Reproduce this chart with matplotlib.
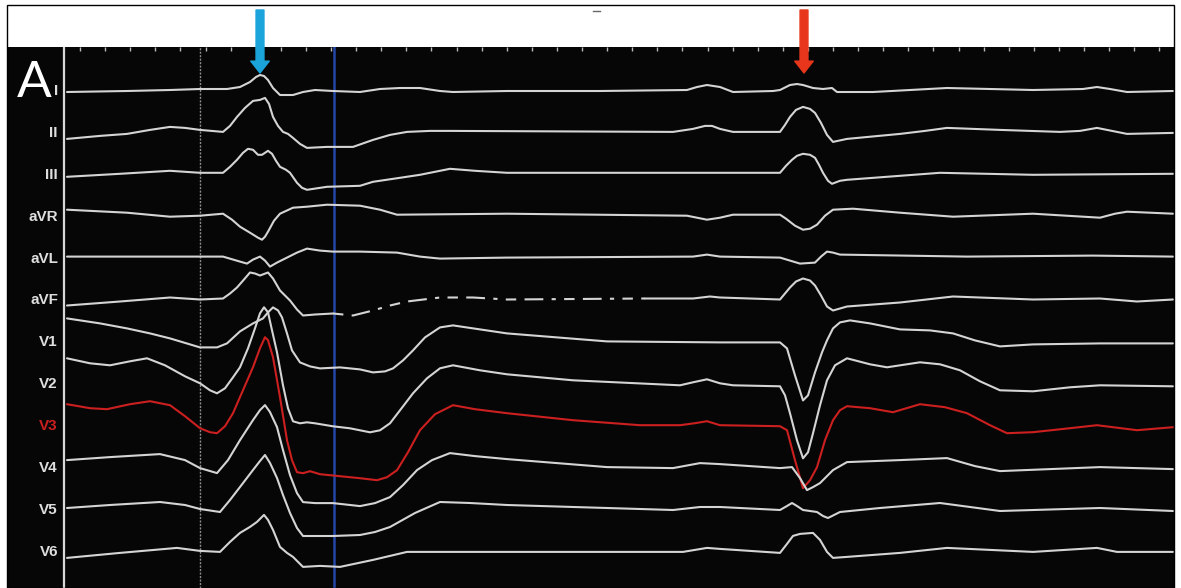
import numpy as np
import matplotlib.pyplot as plt
from matplotlib.patches import Rectangle
from matplotlib.lines import Line2D

# 12-lead tracing: time in samples (500 Hz), amplitude in ADC counts (20 uV/count)
# relative to each lead's own baseline
leads = ["I", "II", "III", "aVR", "aVL", "aVF", "V1", "V2", "V3", "V4", "V5", "V6"]

I_t = [3, 63, 106, 136, 163, 176, 186, 192, 196, 200, 204, 209, 216, 229, 239, 251, 269, 296, 316, 336,
       356, 376, 389, 443, 536, 623, 633, 643, 656, 669, 709, 716, 726, 733, 739, 749, 759, 768, 773, 809,
       883, 969, 1019, 1033, 1046, 1063, 1109]
I_v = [-1, 0, 1, 2, 2, 4, 9, 14, 16, 15, 11, 3, -4, -4, -1, 1, 0, -1, 2, 3,
       3, 0, -1, 0, 0, 1, 4, 6, 4, -1, 0, 1, 6, 7, 6, 3, 2, 3, -1, -1,
       3, 1, 2, 4, 2, -1, 0]

II_t = [3, 36, 63, 86, 106, 121, 136, 159, 166, 173, 181, 189, 196, 201, 205, 209, 214, 219, 224, 229,
        236, 243, 263, 289, 309, 326, 343, 366, 386, 609, 629, 641, 648, 656, 669, 716, 721, 726, 732, 739,
        746, 751, 757, 763, 769, 783, 836, 861, 883, 936, 996, 1016, 1033, 1048, 1063, 1109]
II_v = [-6, -3, -1, 3, 6, 5, 3, 1, 7, 16, 25, 32, 33, 35, 29, 16, 7, 1, -1, -5,
        -11, -15, -14, -14, -7, -2, 1, 2, 2, 1, 4, 7, 7, 4, 1, 1, 8, 16, 23, 26,
        24, 20, 10, -2, -9, -6, -1, 2, 5, 3, 1, 2, 5, 2, -1, 0]

III_t = [3, 56, 106, 136, 159, 166, 173, 179, 184, 189, 194, 198, 204, 208, 212, 216, 222, 226, 233, 238,
         243, 263, 296, 309, 336, 356, 386, 411, 443, 576, 656, 716, 722, 728, 733, 739, 746, 751, 755, 759,
         764, 768, 776, 783, 876, 969, 1109]
III_v = [-2, 1, 4, 2, 2, 8, 15, 22, 26, 25, 20, 20, 24, 21, 14, 8, 5, 2, -8, -13,
         -15, -12, -11, -7, -3, 0, 6, 4, 2, 2, 2, 2, 9, 15, 19, 21, 20, 17, 10, 2,
         -6, -9, -6, -5, 2, 0, 1]

aVR_t = [3, 63, 106, 136, 159, 168, 176, 186, 194, 198, 201, 204, 210, 216, 229, 243, 263, 296, 316, 333,
         443, 623, 643, 656, 669, 716, 722, 731, 739, 746, 753, 761, 769, 789, 836, 889, 969, 1036, 1051, 1063,
         1109]
aVR_v = [7, 4, 0, 1, 3, -3, -10, -16, -21, -23, -20, -15, -4, 3, 9, 10, 12, 11, 7, 2,
         3, 1, -3, -1, 2, 2, -2, -9, -13, -12, -8, 1, 7, 8, 4, 0, 3, -1, 3, 5,
         3]

aVL_t = [3, 159, 176, 183, 189, 196, 201, 206, 213, 223, 233, 243, 256, 269, 296, 333, 356, 376, 443, 629,
         643, 656, 716, 726, 736, 751, 757, 763, 769, 776, 903, 1029, 1109]
aVL_v = [2, 2, -3, -5, -1, 2, -2, -8, -4, 1, 6, 10, 8, 7, 7, 6, 2, 0, 1, 2,
         4, 2, 1, -2, -5, -4, 2, 7, 6, 4, 2, 3, 2]

aVF_t = [3, 56, 106, 136, 159, 166, 173, 180, 186, 191, 196, 204, 209, 216, 221, 226, 233, 239, 251, 269,
         289, 309, 326, 343, 376, 409, 443, 581, 629, 646, 656, 716, 721, 726, 732, 739, 746, 751, 757, 763,
         769, 783, 836, 889, 969, 1036, 1073, 1109]
aVF_v = [-5, -1, 3, 1, 2, 7, 13, 21, 28, 27, 25, 28, 22, 10, 5, 0, -9, -15, -14, -13,
         -15, -10, -5, -1, 3, 3, 1, 2, 2, 4, 3, 1, 7, 13, 19, 22, 20, 15, 5, -6,
         -10, -6, -2, 4, 1, 2, -1, 1]
aVF_dropout = (269, 581)  # signal dropout drawn dashed

V1_t = [3, 36, 63, 86, 106, 126, 136, 153, 163, 176, 189, 199, 204, 209, 214, 218, 223, 228, 236, 246,
        256, 276, 296, 309, 321, 329, 339, 349, 361, 376, 389, 416, 443, 543, 656, 716, 723, 731, 739, 744,
        751, 758, 763, 769, 776, 786, 806, 836, 866, 889, 911, 936, 969, 1036, 1109]
V1_v = [24, 19, 14, 9, 4, -2, -5, -5, -1, 11, 19, 24, 30, 35, 32, 25, 9, -8, -20, -24,
        -26, -25, -27, -30, -29, -26, -18, -8, 5, 15, 17, 13, 9, 1, 0, 0, -6, -33, -58, -53,
        -30, -10, 2, 14, 20, 22, 19, 13, 12, 9, 2, -4, -2, -1, -1]

V2_t = [3, 26, 46, 66, 83, 101, 121, 136, 146, 153, 161, 169, 176, 184, 191, 196, 200, 204, 208, 213,
        219, 224, 229, 236, 243, 251, 269, 286, 306, 316, 326, 336, 349, 363, 376, 389, 416, 443, 509, 616,
        629, 643, 656, 669, 716, 721, 726, 733, 739, 744, 749, 756, 763, 771, 783, 806, 823, 856, 876, 896,
        916, 936, 969, 1006, 1036, 1109]
V2_v = [26, 21, 19, 23, 26, 19, 8, 1, -6, -9, -4, 7, 17, 36, 56, 71, 77, 72, 54, 32,
        -1, -24, -37, -39, -38, -39, -42, -44, -48, -46, -39, -26, -9, 6, 16, 19, 14, 10, 4, -1,
        2, 5, 1, -1, -2, -11, -29, -56, -74, -68, -49, -21, 4, 19, 26, 20, 17, 22, 20, 14,
        3, -6, -7, -3, -1, -2]

V3_t = [3, 26, 43, 66, 86, 106, 121, 136, 146, 153, 161, 169, 179, 189, 196, 201, 204, 209, 216, 223,
        228, 233, 239, 246, 256, 276, 296, 313, 323, 333, 344, 356, 371, 389, 411, 443, 509, 576, 616, 631,
        643, 656, 716, 723, 731, 739, 746, 753, 761, 769, 776, 783, 806, 829, 856, 881, 903, 926, 943, 969,
        1006, 1033, 1073, 1109]
V3_v = [22, 18, 17, 22, 25, 21, 10, -2, -6, -7, 0, 13, 36, 59, 78, 89, 86, 69, 29, -14,
        -34, -46, -47, -45, -48, -50, -52, -54, -51, -44, -26, -4, 12, 21, 17, 13, 6, 1, 1, 3,
        5, 1, 0, -4, -34, -62, -54, -41, -14, 6, 16, 20, 18, 14, 22, 19, 13, 1, -7, -6,
        -2, 1, -4, -1]

V4_t = [3, 46, 96, 121, 136, 153, 164, 176, 189, 196, 201, 206, 213, 219, 226, 233, 239, 251, 269, 296,
        311, 326, 339, 353, 368, 386, 411, 443, 543, 609, 636, 656, 716, 728, 736, 743, 749, 756, 769, 783,
        836, 883, 911, 936, 1036, 1109]
V4_v = [8, 11, 14, 8, 0, -5, 8, 28, 48, 58, 63, 56, 41, 18, -7, -25, -34, -35, -35, -38,
        -35, -29, -17, -2, 8, 15, 12, 9, 1, 0, 5, 4, 0, 1, -10, -22, -19, -15, -2, 6,
        8, 10, 2, -3, 1, -1]

V5_t = [3, 46, 96, 121, 136, 156, 166, 176, 189, 196, 201, 206, 213, 219, 226, 233, 239, 269, 296, 311,
        326, 351, 376, 406, 443, 543, 609, 636, 656, 716, 723, 728, 733, 739, 753, 759, 764, 770, 776, 816,
        876, 906, 936, 1036, 1109]
V5_v = [2, 5, 8, 5, 1, -2, 10, 23, 40, 49, 55, 47, 32, 15, -3, -18, -26, -26, -25, -22,
        -17, -3, 8, 7, 5, 2, 0, 3, 3, 0, 4, 7, 4, 0, -2, -6, -8, -5, -2, 2,
        7, 3, -1, 2, -1]

V6_t = [3, 56, 113, 136, 156, 166, 176, 186, 193, 200, 204, 209, 216, 223, 229, 239, 256, 276, 309, 343,
        443, 619, 643, 656, 716, 723, 729, 736, 749, 756, 763, 769, 783, 836, 883, 969, 1033, 1053, 1109]
V6_v = [-6, -1, 4, 1, 0, 10, 19, 25, 30, 37, 32, 22, 5, -1, -5, -15, -14, -15, -8, 0,
        0, 0, 4, 3, -1, 8, 16, 18, 19, 12, 0, -6, -5, -1, 4, 0, 4, 0, 0]

# cursors and markers (samples)
cursor_start = 0
cursor_gray = 136
cursor_blue = 270
arrow_blue = 196
arrow_red = 740
highlight = "V3"

traces = {"I": (I_t, I_v), "II": (II_t, II_v), "III": (III_t, III_v),
          "aVR": (aVR_t, aVR_v), "aVL": (aVL_t, aVL_v), "aVF": (aVF_t, aVF_v),
          "V1": (V1_t, V1_v), "V2": (V2_t, V2_v), "V3": (V3_t, V3_v),
          "V4": (V4_t, V4_v), "V5": (V5_t, V5_v), "V6": (V6_t, V6_v)}

MS = 2.0          # ms per sample
GAP = 41.9        # counts between lead baselines
W, H = 1181, 588

fig = plt.figure(figsize=(W / 100, H / 100), dpi=100, facecolor="white")
ax = fig.add_axes([7 / W, 0, 1167 / W, 541 / H])
ax.set_facecolor("#060606")
ax.set_xlim(-57 * MS, 1110 * MS)
ax.set_ylim(-497, 44)
for s in ax.spines.values():
    s.set_visible(False)
ax.set_yticks([])
ax.xaxis.tick_top()
ax.set_xticks(np.arange(16, 1105, 25.1) * MS)
ax.tick_params(axis="x", direction="in", length=3, width=1, color="#bbbbbb", labeltop=False)

ax.axvline(cursor_start * MS, color="#d8d8d8", lw=1.6)
ax.axvline(cursor_gray * MS, color="#8c8c8c", lw=1.0, ls=(0, (1.5, 1)))
ax.axvline(cursor_blue * MS, color="#2446a6", lw=1.8)

trace_col = "#d4d4d4"
red_col = "#cc1f1f"
for i, name in enumerate(leads):
    t = np.array(traces[name][0]) * MS
    y = np.array(traces[name][1]) - i * GAP
    col = red_col if name == highlight else trace_col
    kw = dict(color=col, lw=1.5, solid_joinstyle="round", solid_capstyle="round")
    if name == "aVF":
        a = aVF_t.index(aVF_dropout[0])
        b = aVF_t.index(aVF_dropout[1])
        ax.plot(t[:a + 1], y[:a + 1], **kw)
        ax.plot(t[a:b + 1], y[a:b + 1], color=col, lw=1.5, ls=(0, (5, 4, 9, 4, 2, 4)))
        ax.plot(t[b:], y[b:], **kw)
    else:
        ax.plot(t, y, **kw)
    ax.text(-6 * MS, -i * GAP, name, ha="right", va="center", fontsize=11,
            fontweight="bold", family="Liberation Sans", color=col if name == highlight else "#dedede")

ax.text(-47 * MS, 8, "A", ha="left", va="center", fontsize=37, color="white",
        family="Lato", fontweight="normal")

for tt, c in [(arrow_blue, "#1ba3dc"), (arrow_red, "#e8361c")]:
    ax.annotate("", xy=(tt * MS, H - 73), xycoords=("data", "figure pixels"),
                xytext=(tt * MS, H - 10), textcoords=("data", "figure pixels"),
                arrowprops=dict(arrowstyle="simple,head_length=0.45,head_width=0.7,tail_width=0.3",
                                color=c, mutation_scale=19, shrinkA=0, shrinkB=0),
                annotation_clip=False)

fig.add_artist(Rectangle((7 / W, 0), 1167 / W, 583 / H, transform=fig.transFigure,
                         fill=False, ec="black", lw=1))
fig.add_artist(Line2D([593 / W, 600 / W], [1 - 11 / H, 1 - 11 / H], color="#666666", lw=1))

fig.savefig("out.png", dpi=100, facecolor="white")
